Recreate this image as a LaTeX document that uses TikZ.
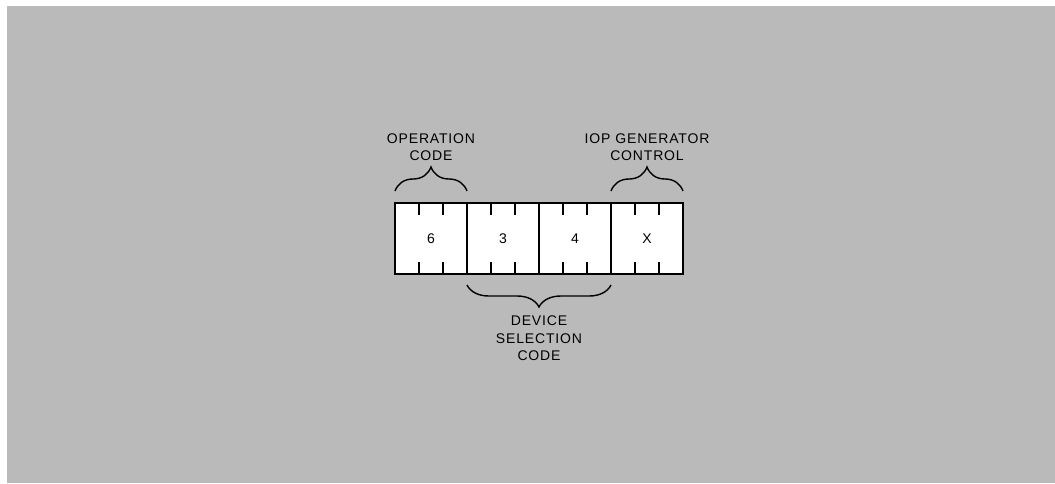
\documentclass[tikz,border=0pt]{standalone}
\usepackage{fontspec}
\setmainfont{Liberation Sans}[LetterSpace=6]
\usepackage{tikz}
\usetikzlibrary{positioning,decorations.pathreplacing}
\definecolor{cpaper}{rgb}{0.73,0.73,0.73}

\begin{document}
\begin{tikzpicture}[x=1pt,y=-1pt,node distance=0pt,
  cell/.style={rectangle,draw,fill=white,line width=1.4pt,outer sep=0pt,
               minimum width=72pt,minimum height=71pt,inner sep=0pt,
               font=\fontsize{14}{17}\selectfont},
  lbl/.style={align=center,inner sep=0pt,font=\fontsize{14}{17.5}\selectfont},
  tick/.style={line width=1.4pt},
  brc/.style={decorate,line width=1.4pt,decoration={brace,amplitude=#1}}]
\useasboundingbox (0,0) rectangle (1055,483);
\fill[white] (0,0) rectangle (1055,483);
\fill[cpaper] (7,6) rectangle (1055,483);
% the four fields of the word
\node[cell] (c1) at (431,238.5) {6};
\node[cell,right=of c1] (c2) {3};
\node[cell,right=of c2] (c3) {4};
\node[cell,right=of c3] (c4) {X};
\foreach \i in {1,...,4}{
  \foreach \t in {24,48}{
    \draw[tick] ([xshift=\t pt]c\i.north west) -- ++(0,12);
    \draw[tick] ([xshift=\t pt]c\i.south west) -- ++(0,-12);
  }
}
% braces and their labels
\draw[brc=24pt] ([yshift=12pt]c1.north west) -- ([yshift=12pt]c1.north east);
\draw[brc=24pt] ([yshift=12pt]c4.north west) -- ([yshift=12pt]c4.north east);
\draw[brc=22pt] ([yshift=-11pt]c3.south east) -- ([yshift=-11pt]c2.south west);
\node[lbl,above=42pt of c1.north] (opc) {OPERATION\\CODE};
\node[lbl,above=42pt of c4.north] (iop) {IOP\hspace{5pt}GENERATOR\\CONTROL};
\node[lbl,below=42pt of c2.south east] (dsc) {DEVICE\\SELECTION\\CODE};
\end{tikzpicture}
\end{document}
